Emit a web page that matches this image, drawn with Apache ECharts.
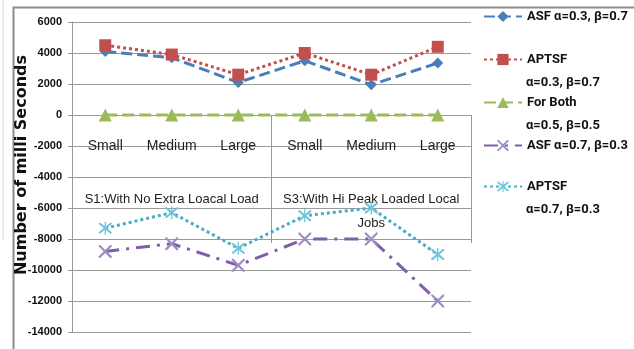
<!DOCTYPE html>
<html>
<head>
<meta charset="utf-8">
<script src="https://cdn.jsdelivr.net/npm/echarts@6/dist/echarts.min.js"></script>
<style>
  html, body { margin: 0; padding: 0; background: #fff; }
  #chart { width: 634px; height: 349px; }
</style>
</head>
<body>
<div id="chart"></div>
<script>
// Job sizes within each scenario
const sizes = ['Small', 'Medium', 'Large', 'Small', 'Medium', 'Large'];
// Scenario groups spanning three sizes each
const scenarios = ['S1:With No Extra Loacal Load', 'S3:With Hi Peak Loaded Local\nJobs'];

// Series names (legend lines split on \n)
const names = [
  'ASF α=0.3, β=0.7',
  'APTSF\nα=0.3, β=0.7',
  'For Both\nα=0.5, β=0.5',
  'ASF α=0.7, β=0.3',
  'APTSF\nα=0.7, β=0.3'
];

// Values in milliseconds
const asf37 = [4100, 3700, 2100, 3500, 1950, 3350];
const aptsf37 = [4500, 3900, 2600, 4000, 2600, 4400];
const both55 = [0, 0, 0, 0, 0, 0];
const asf73 = [-8800, -8300, -9700, -8000, -8000, -12000];
const aptsf73 = [-7300, -6300, -8600, -6500, -6000, -9000];

// Y axis range
const yMin = -14000, yMax = 6000, yStep = 2000;

const SANS = '"Liberation Sans", Arial, sans-serif';
const LEG = 'Roboto, "Liberation Sans", sans-serif';

// Marker paths
const xMark = 'path://M0,0L1.2,0L10,8.8L10,10L8.8,10L0,1.2Z M8.8,0L10,0L10,1.2L1.2,10L0,10L0,8.8Z';
const starMark = 'path://M0,0L1.2,0L10,8.8L10,10L8.8,10L0,1.2Z M8.8,0L10,0L10,1.2L1.2,10L0,10L0,8.8Z M4.5,-1L5.5,-1L5.5,11L4.5,11Z';

const chart = echarts.init(document.getElementById('chart'), null, { renderer: 'canvas' });

const seriesDefs = [
  { data: asf37, color: '#4A7EBB', dash: [11, 5], symbol: 'diamond', size: 11, symColor: '#4A7EBB' },
  { data: aptsf37, color: '#C0504D', dash: [3, 3], symbol: 'rect', size: 12, symColor: '#C0504D' },
  { data: both55, color: '#9BBB59', dash: [12, 5], symbol: 'triangle', size: 13, symColor: '#9BBB59' },
  { data: asf73, color: '#7F5FA8', dash: [14, 7, 3, 7], symbol: xMark, size: 13, symColor: '#A08CC6' },
  { data: aptsf73, color: '#4BACC6', dash: [3, 3], symbol: starMark, size: 13, symColor: '#6CC6DC' }
];

const series = seriesDefs.map((d, i) => ({
  name: names[i],
  type: 'line',
  data: d.data,
  symbol: d.symbol,
  symbolSize: d.size,
  showSymbol: true,
  z: 3 + i,
  lineStyle: { color: d.color, width: 3, type: d.dash },
  itemStyle: { color: d.symColor },
  emphasis: { disabled: true }
}));

// One legend per series so each entry sits at its own height
const legendCenters = [17, 60, 103, 146, 187];
const legends = names.map((n, i) => ({
  data: [n],
  left: 483,
  top: legendCenters[i] - 7,
  padding: 0,
  orient: 'vertical',
  itemWidth: 38,
  itemHeight: 14,
  itemGap: 0,
  selectedMode: false,
  formatter: (name) => name.split('\n')[0],
  textStyle: { fontFamily: LEG, fontSize: 13, fontWeight: 'bold', color: '#111' }
}));

// Continuation lines of the two-line legend entries
const legendSecond = [];
names.forEach((n, i) => {
  const parts = n.split('\n');
  if (parts.length > 1) {
    legendSecond.push({
      type: 'text',
      left: 526,
      top: legendCenters[i] + 23 - 7,
      style: { text: parts[1], fontFamily: LEG, fontSize: 13, fontWeight: 'bold', fill: '#111' }
    });
  }
});

const gridBox = { left: 72, right: 163, top: 22, bottom: 17, containLabel: false, outerBoundsMode: 'none' };
// Distance from the plot's bottom edge up to the zero line
const zeroShift = -Math.round((0 - yMin) / (yMax - yMin) * (349 - 22 - 17));

const option = {
  backgroundColor: '#fff',
  animation: false,
  grid: [Object.assign({}, gridBox), Object.assign({}, gridBox)],
  legend: legends,
  xAxis: [
    {
      type: 'category',
      gridIndex: 0,
      data: sizes,
      position: 'bottom',
      offset: zeroShift,
      boundaryGap: true,
      axisLine: { onZero: false, lineStyle: { color: '#999', width: 1 } },
      axisTick: { show: false },
      axisLabel: { interval: 0, margin: 24, fontFamily: SANS, fontSize: 14, color: '#222' },
      splitLine: { show: false }
    },
    {
      type: 'category',
      gridIndex: 1,
      data: scenarios,
      position: 'bottom',
      offset: zeroShift,
      boundaryGap: true,
      axisLine: { onZero: false, show: false },
      axisTick: { show: true, interval: 0, length: 128, lineStyle: { color: '#999', width: 1 } },
      axisLabel: { interval: 0, hideOverlap: false, margin: 72, fontFamily: SANS, fontSize: 13, color: '#222', lineHeight: 24, verticalAlign: 'top' },
      splitLine: { show: false }
    }
  ],
  yAxis: [
    {
      type: 'value',
      gridIndex: 0,
      min: yMin,
      max: yMax,
      interval: yStep,
      name: 'Number of milli Seconds',
      nameLocation: 'middle',
      nameGap: 42,
      nameMoveOverlap: false,
      nameTextStyle: { fontFamily: '"DejaVu Sans", sans-serif', fontSize: 16, fontWeight: 'bold', color: '#111', padding: [0, 0, 0, 24] },
      axisLine: { show: true, lineStyle: { color: '#999', width: 1 } },
      axisTick: { show: true, length: 4, lineStyle: { color: '#999' } },
      axisLabel: { margin: 10, fontFamily: SANS, fontSize: 11, fontWeight: 'bold', color: '#111', formatter: (v) => String(v) },
      splitLine: { show: true, lineStyle: { color: '#9a9a9a', width: 1 } }
    },
    {
      type: 'value',
      gridIndex: 1,
      min: yMin,
      max: yMax,
      interval: yStep,
      show: false,
      splitLine: { show: false }
    }
  ],
  series: series,
  graphic: [
    {
      type: 'rect',
      left: 11, top: 5, silent: true, z: -1,
      shape: { width: 640, height: 360 },
      style: { fill: 'none', stroke: '#8c8c8c', lineWidth: 2 }
    },
    {
      type: 'line',
      silent: true,
      shape: { x1: 3, y1: 0, x2: 3, y2: 240 },
      style: { stroke: '#d8d8d8', lineWidth: 1 }
    }
  ].concat(legendSecond)
};

chart.setOption(option);
</script>
</body>
</html>
